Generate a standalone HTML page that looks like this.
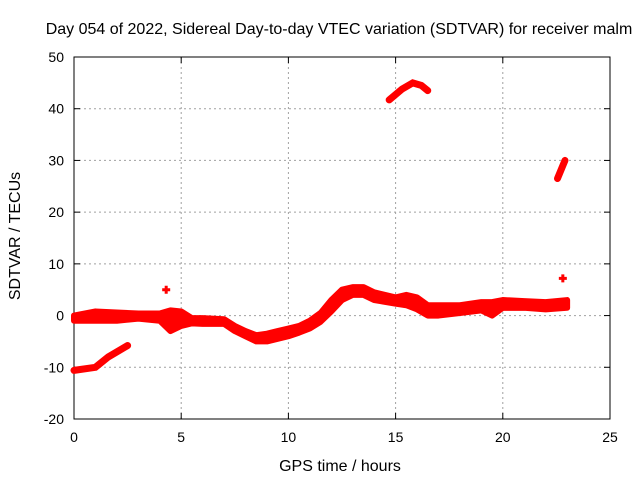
<!DOCTYPE html>
<html><head><meta charset="utf-8"><style>
body{margin:0;background:#fff;font-family:"Liberation Sans",sans-serif;}
svg text{font-family:"Liberation Sans",sans-serif;font-size:14px;fill:#000;}
svg text.big{font-size:16px;}
</style></head><body>
<svg id="c" width="640" height="480"></svg>
<script>
const xTicks=[0,5,10,15,20,25];
const yTicks=[-20,-10,0,10,20,30,40,50];
// main band: hour, low, high
const mainHours=[0,1,2,3,4,4.5,5,5.5,6,7,7.5,8,8.5,9,9.5,10,10.5,11,11.5,12,12.5,13,13.5,14,15,15.5,16,16.5,17,18,19,19.5,20,21,22,23];
const mainLow=[-1,-1,-1,-0.6,-1,-3,-2,-1.5,-1.6,-1.6,-3,-4,-5,-5,-4.5,-4,-3.3,-2.5,-1.2,0.8,3,4,4,3,2.3,2,1.2,0,0,0.5,1,0,1.5,1.5,1.2,1.5];
const mainHigh=[0,0.8,0.6,0.4,0.4,1,0.8,-0.5,-0.5,-0.7,-2,-3,-3.8,-3.5,-3,-2.5,-2,-1,0.5,3,5,5.5,5.5,4.5,3.5,4,3.5,2,2,2,2.6,2.6,3,2.8,2.6,3];
const lowHours=[0,1,1.6,2.5];
const lowVals=[-10.6,-10,-8,-5.8];
const topHours=[14.7,15.3,15.8,16.2,16.5];
const topVals=[41.7,43.8,45,44.5,43.5];
const rightHours=[22.55,22.9];
const rightVals=[26.5,30];
const dotHours=[4.3,22.8];
const dotVals=[5,7.2];
const L=74,R=610,T=57,B=419;
const sx=v=>L+(v-0)/(25-0)*(R-L);
const sy=v=>B-(v+20)/70*(B-T);
const svg=document.getElementById('c');
const NS='http://www.w3.org/2000/svg';
function mk(t,a,p){const e=document.createElementNS(NS,t);for(const k in a)e.setAttribute(k,a[k]);(p||svg).appendChild(e);return e;}
xTicks.forEach(v=>{if(v>0&&v<25){const g=mk('line',{x1:sx(v),x2:sx(v),y1:T,y2:B,stroke:'#a0a0a0','stroke-dasharray':'2,3'});

}
const t=mk('text',{x:sx(v),y:B+23,'text-anchor':'middle'});t.textContent=v;


mk('line',{x1:sx(v),x2:sx(v),y1:B,y2:B-6,stroke:'#000'});mk('line',{x1:sx(v),x2:sx(v),y1:T,y2:T+6,stroke:'#000'});});
yTicks.forEach(v=>{if(v>-20&&v<50){const g=mk('line',{x1:L,x2:R,y1:sy(v),y2:sy(v),stroke:'#a0a0a0','stroke-dasharray':'2,3'});

}
const t=mk('text',{x:L-10,y:sy(v)+5,'text-anchor':'end'});t.textContent=v;


mk('line',{x1:L,x2:L+6,y1:sy(v),y2:sy(v),stroke:'#000'});mk('line',{x1:R,x2:R-6,y1:sy(v),y2:sy(v),stroke:'#000'});});
const fr=mk('rect',{x:L,y:T,width:R-L,height:B-T,fill:'none',stroke:'#000'});


let pts=mainHours.map((h,i)=>sx(h)+','+sy(mainHigh[i]));
pts=pts.concat(mainHours.map((h,i)=>sx(h)+','+sy(mainLow[i])).reverse());
const band=mk('polygon',{points:pts.join(' '),fill:'#f00',stroke:'#f00','stroke-width':6,'stroke-linejoin':'round'});


function track(hs,vs,name){const p=mk('polyline',{points:hs.map((h,i)=>sx(h)+','+sy(vs[i])).join(' '),fill:'none',stroke:'#f00','stroke-width':7,'stroke-linecap':'round'});

}
track(lowHours,lowVals,'sdtvar-low-track');
track(topHours,topVals,'sdtvar-top-track');
track(rightHours,rightVals,'sdtvar-right-track');
dotHours.forEach((h,i)=>{const d=mk('path',{d:`M${sx(h)-4},${sy(dotVals[i])}h8M${sx(h)},${sy(dotVals[i])-4}v8`,stroke:'#f00','stroke-width':3});

});
const ti=mk('text',{x:339,y:34,'text-anchor':'middle',class:'big'});ti.textContent='Day 054 of 2022, Sidereal Day-to-day VTEC variation (SDTVAR) for receiver malm';


const xl=mk('text',{x:340,y:471,'text-anchor':'middle',class:'big'});xl.textContent='GPS time / hours';


const yl=mk('text',{x:20,y:236,'text-anchor':'middle',class:'big',transform:'rotate(-90 20 236)'});yl.textContent='SDTVAR / TECUs';


</script>
</body></html>
